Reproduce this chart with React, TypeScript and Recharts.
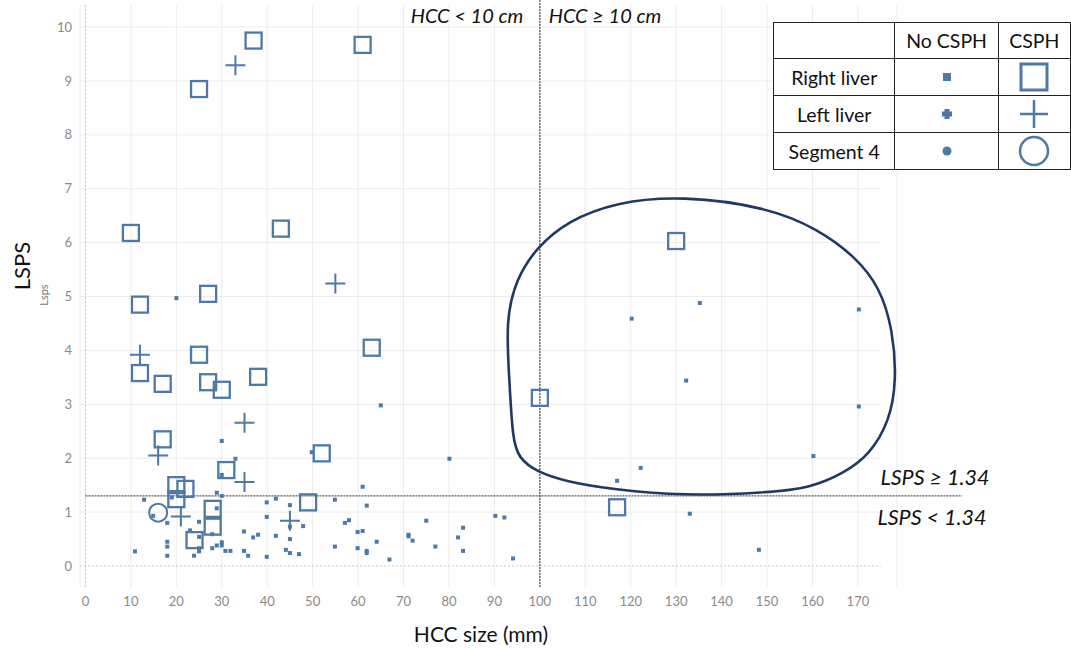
import React from "react";
import { ScatterChart, Scatter, XAxis, YAxis, CartesianGrid, ReferenceLine } from "recharts";

const BLUE = "#4e79a7";
const NAVY = "#1f3864";
const GRID = "#ececec";

const xTicks = [0, 10, 20, 30, 40, 50, 60, 70, 80, 90, 100, 110, 120, 130, 140, 150, 160, 170];
const yTicks = [0, 1, 2, 3, 4, 5, 6, 7, 8, 9, 10];

// HCC size (mm), LSPS
const noCsph: [number, number][] = [
  [12.9, 1.23], [10.9, 0.27], [14.9, 0.93], [18, 0.8], [18, 0.45], [18, 0.36], [18, 0.19], [19, 1.27],
  [25, 0.82], [23, 0.66], [25, 0.54], [23.9, 0.19], [25, 0.33], [25, 0.27], [28.9, 1.07], [28.9, 1.36],
  [30, 1.3], [27.9, 0.59], [27.9, 0.33], [28.9, 0.38], [30, 0.44], [30, 0.38], [30.8, 0.28], [31.9, 0.28],
  [34.9, 0.64], [34.9, 0.28], [35.8, 0.19], [36.9, 0.53], [38, 0.58], [39.9, 1.18], [39.9, 0.91], [39.9, 0.17],
  [41.9, 1.25], [41.9, 0.56], [44.1, 0.3], [45, 1.13], [45, 0.73], [45, 0.5], [45, 0.24], [47, 0.22],
  [47.9, 0.74], [49.8, 2.11], [54.9, 1.23], [54.9, 0.36], [57.1, 0.8], [58, 0.85], [59.9, 0.63], [59.9, 0.33],
  [61, 1.47], [61, 0.65], [61.9, 1.12], [61.9, 0.28], [61.9, 0.24], [64.1, 0.45], [66.9, 0.12],
  [20, 4.97], [65, 2.98], [30, 2.32], [33, 1.99], [30, 1.69],
  [80.1, 1.99], [71.1, 0.58], [71.1, 0.55], [72, 0.47], [75, 0.84], [77, 0.36], [82, 0.53], [83.1, 0.71],
  [83.1, 0.28], [90.2, 0.93], [92.2, 0.9], [94.1, 0.14],
  [117, 1.58], [122.2, 1.82], [120.2, 4.59], [135.2, 4.88], [170.2, 4.76], [132.2, 3.44], [170.2, 2.96],
  [160.2, 2.04], [133, 0.97], [148.2, 0.3],
];
const rightCsph: [number, number][] = [
  [37, 9.75], [61, 9.67], [25, 8.85], [10, 6.18], [43, 6.26], [12, 4.85], [27, 5.05], [63, 4.05],
  [25, 3.92], [12, 3.58], [17, 3.38], [27, 3.41], [30, 3.27], [38, 3.51], [17, 2.35], [52, 2.09],
  [31, 1.78], [20, 1.5], [22, 1.43], [20, 1.24], [28, 1.06], [28, 0.73], [24, 0.48], [49, 1.18],
  [100, 3.12], [117, 1.09], [130, 6.03],
];
const leftCsph: [number, number][] = [
  [33, 9.29], [55, 5.24], [12, 3.92], [35, 2.66], [16, 2.05], [35, 1.56], [21, 0.92], [45, 0.84],
];
const seg4Csph: [number, number][] = [[16, 0.99]];

// hand-drawn outline around the large tumours
const outline: [number, number][] = [
  [131.3, 6.87], [150, 6.66], [161.3, 6.25], [169.4, 5.74], [174.8, 5.18], [177.7, 4.38], [178.5, 3.45],
  [177, 2.69], [172.5, 2.06], [167, 1.73], [159.6, 1.45], [150, 1.36], [131.5, 1.3], [116.1, 1.42],
  [106, 1.56], [99.2, 1.75], [95.4, 2.0], [94, 2.34], [93.3, 3.45], [92.5, 4.56], [94.8, 5.33],
  [99.2, 5.9], [106, 6.4], [117, 6.76],
];

const CUT_X = 100;
const CUT_Y = 1.3;

const pts = (a: [number, number][]) => a.map(([x, y]) => ({ x, y }));

const Dot = (p: any) => <rect x={p.cx - 2} y={p.cy - 2} width={4} height={4} fill={BLUE} />;
const Sq = (p: any) => (
  <rect x={p.cx - 8} y={p.cy - 8} width={16} height={16} fill="none" stroke={BLUE} strokeWidth={2.3} />
);
const Plus = (p: any) => (
  <path d={`M${p.cx - 10},${p.cy}H${p.cx + 10}M${p.cx},${p.cy - 10}V${p.cy + 10}`} stroke={BLUE} strokeWidth={2} />
);
const Ring = (p: any) => <circle cx={p.cx} cy={p.cy} r={9} fill="none" stroke={BLUE} strokeWidth={2} />;
const Nothing = () => <g />;

const text = (s: string, left: number, top: number, extra: React.CSSProperties = {}) => (
  <div
    style={{
      position: "absolute",
      left,
      top,
      transform: "translate(-50%, -50%)",
      whiteSpace: "nowrap",
      lineHeight: 1,
      ...extra,
    }}
  >
    {s}
  </div>
);

const legendRows = ["Right liver", "Left liver", "Segment 4"];
const legendCols = ["No CSPH", "CSPH"];

const SmallSym = ({ i }: { i: number }) => (
  <svg width={14} height={14} style={{ display: "block", margin: "0 auto" }}>
    {i === 0 && <rect x={3} y={3} width={8} height={8} fill={BLUE} />}
    {i === 1 && <path d="M4.5,2H9.5V4.5H12V9.5H9.5V12H4.5V9.5H2V4.5H4.5Z" fill={BLUE} />}
    {i === 2 && <circle cx={7} cy={7} r={4.5} fill={BLUE} />}
  </svg>
);
const BigSym = ({ i }: { i: number }) => (
  <svg width={34} height={34} style={{ display: "block", margin: "0 auto" }}>
    {i === 0 && <rect x={4} y={4} width={26} height={26} fill="none" stroke={BLUE} strokeWidth={3} />}
    {i === 1 && <path d="M3,17H31M17,3V31" stroke={BLUE} strokeWidth={2.5} />}
    {i === 2 && <circle cx={17} cy={17} r={14} fill="none" stroke={BLUE} strokeWidth={2.5} />}
  </svg>
);

const cell: React.CSSProperties = { border: "1.5px solid #222", padding: 0, textAlign: "center" };

export default function App() {
  return (
    <div style={{ position: "absolute", left: 0, top: 0, width: 1071, height: 649, background: "#fff", fontFamily: "Lato, sans-serif" }}>
      <ScatterChart width={1071} height={649} margin={{ top: 5, right: 174, bottom: 32, left: 40 }}>
        <CartesianGrid horizontal={false} stroke={GRID} />
        <XAxis
          type="number"
          dataKey="x"
          domain={[-1.2, 178.6]}
          allowDataOverflow
          ticks={xTicks}
          axisLine={false}
          tickLine={false}
          height={30}
          tick={{ fill: "#8a8a8a", fontSize: 13 }}
          tickMargin={4}
        />
        <YAxis
          type="number"
          dataKey="y"
          domain={[-0.39, 10.41]}
          allowDataOverflow
          ticks={yTicks}
          axisLine={false}
          tickLine={false}
          width={40}
          tick={{ fill: "#8a8a8a", fontSize: 13 }}
        />
        {yTicks.filter((t) => t > 0).map((t) => (
          <ReferenceLine key={t} segment={[{ x: -1.2, y: t }, { x: 175, y: t }]} stroke={GRID} ifOverflow="visible" />
        ))}
        <ReferenceLine segment={[{ x: -1.2, y: 0 }, { x: 175, y: 0 }]} stroke="#c8c8c8" strokeDasharray="2 2" ifOverflow="visible" />
        <ReferenceLine segment={[{ x: 0, y: -0.39 }, { x: 0, y: 10.41 }]} stroke="#c8c8c8" strokeDasharray="2 2" ifOverflow="visible" />
        <ReferenceLine segment={[{ x: 0, y: CUT_Y }, { x: 192.9, y: CUT_Y }]} stroke="#555" strokeWidth={1.3} strokeDasharray="2 1" ifOverflow="visible" />
        <ReferenceLine segment={[{ x: CUT_X, y: -0.39 }, { x: CUT_X, y: 10.5 }]} stroke="#555" strokeWidth={1.3} strokeDasharray="2 1" ifOverflow="visible" />
        <Scatter data={pts(noCsph)} shape={Dot} isAnimationActive={false} />
        <Scatter data={pts(rightCsph)} shape={Sq} isAnimationActive={false} />
        <Scatter data={pts(leftCsph)} shape={Plus} isAnimationActive={false} />
        <Scatter data={pts(seg4Csph)} shape={Ring} isAnimationActive={false} />
        <Scatter
          data={pts(outline)}
          shape={Nothing}
          line={{ stroke: NAVY, strokeWidth: 2.6, fill: "none" }}
          lineType="joint"
          lineJointType="basisClosed"
          isAnimationActive={false}
        />
      </ScatterChart>

      {text("LSPS", 22, 266, { transform: "translate(-50%, -50%) rotate(-90deg)", fontSize: 22, color: "#111" })}
      {text("Lsps", 43, 295, { transform: "translate(-50%, -50%) rotate(-90deg)", fontSize: 11, color: "#777" })}
      {text("HCC size (mm)", 481, 633, { fontSize: 21, color: "#111" })}
      {text("HCC < 10 cm", 467, 15, { fontSize: 20, fontStyle: "italic", color: "#111" })}
      {text("HCC \u2265 10 cm", 605, 15, { fontSize: 20, fontStyle: "italic", color: "#111" })}
      {text("LSPS \u2265 1.34", 935, 478, { fontSize: 21.5, fontStyle: "italic", color: "#111" })}
      {text("LSPS < 1.34", 932, 518, { fontSize: 21.5, fontStyle: "italic", color: "#111" })}

      <table
        style={{
          position: "absolute",
          left: 773,
          top: 22,
          width: 298,
          borderCollapse: "collapse",
          fontSize: 19.5,
          color: "#111",
          background: "#fff",
        }}
      >
        <tbody>
          <tr style={{ height: 36 }}>
            <td style={{ ...cell, width: 122 }} />
            {legendCols.map((c, j) => (
              <td key={c} style={{ ...cell, width: j === 0 ? 104 : 72 }}>{c}</td>
            ))}
          </tr>
          {legendRows.map((r, i) => (
            <tr key={r} style={{ height: 37 }}>
              <td style={cell}>{r}</td>
              <td style={cell}><SmallSym i={i} /></td>
              <td style={cell}><BigSym i={i} /></td>
            </tr>
          ))}
        </tbody>
      </table>
    </div>
  );
}
